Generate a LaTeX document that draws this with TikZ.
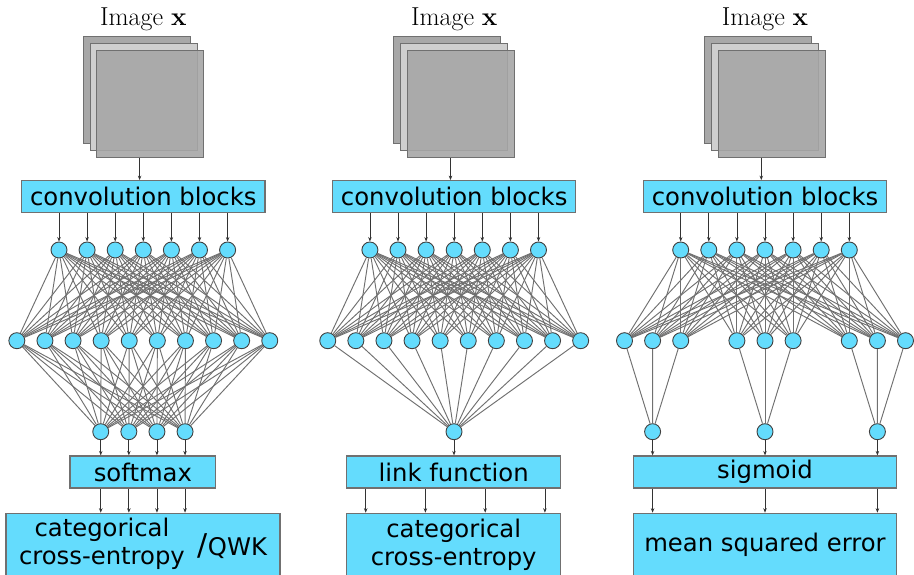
\documentclass[tikz,border=0pt]{standalone}
\usepackage{fontspec}
\setsansfont{DejaVu Sans}
\usetikzlibrary{arrows.meta,positioning}

\definecolor{unitblue}{RGB}{100,220,253}
\definecolor{wiregray}{RGB}{112,112,112}
\definecolor{framegray}{RGB}{112,112,112}

\tikzset{
  unit/.style={circle, draw=black!75, fill=unitblue, line width=0.9pt,
    minimum size=16pt, inner sep=0pt},
  blockbox/.style={draw=framegray, fill=unitblue, line width=1.2pt, inner sep=0pt,
    font=\sffamily\fontsize{24.3}{28}\selectfont},
  sheet/.style={draw=framegray, line width=1pt, minimum size=107pt, inner sep=0pt},
  wire/.style={wiregray, line width=0.95pt},
  feed/.style={black!80, line width=0.8pt, -{Stealth[length=4.5pt,width=3.5pt]}}
}

\begin{document}
\begin{tikzpicture}[x=1pt, y=-1pt]
        \useasboundingbox (0,0) rectangle (914,575);
        % Input image and convolution blocks, one column per model
        \foreach \c/\p in {143.3/a,454.2/b,765/c}{
          \node[anchor=base, font=\fontsize{26}{30}\selectfont, inner sep=0pt] (\p-label) at (\c,26) {Image \textbf{x}};
          \node[sheet, fill=black!34] (\p-back) at ({\c-6.8},90.5) {};
          \node[sheet, fill=black!19] (\p-mid) at ({\c+0.2},97.5) {};
          \node[sheet, fill=black!35, fill opacity=0.9] (\p-front) at ({\c+6.65},104.25) {};
          \node[blockbox, minimum width=243.3pt, minimum height=32pt] (\p-conv) at (\c,196.7) {convolution blocks};
          \coordinate (\p-src) at ({\c-3.7},157.8);
          \draw[feed] (\p-src) -- (\p-src |- \p-conv.north);
          % First hidden layer
          \foreach \i in {1,...,7}{
            \node[unit] (\p-t\i) at ({\c+(\i-4)*28.1},250) {};
            \draw[feed] (\p-conv.south -| \p-t\i) -- (\p-t\i);
          }
        }

        % Second hidden layer
        \foreach \j in {1,...,10}{
          \node[unit] (a-m\j) at ({143.3+(\j-5.5)*28.1},340.7) {};
          \node[unit] (b-m\j) at ({454.2+(\j-5.5)*28.1},340.7) {};
        }
        \foreach \k [count=\j] in {0,1,2,4,5,6,8,9,10}
          \node[unit] (c-m\j) at ({765+(\k-5)*28.1},340.7) {};

        % Dense connections
        \foreach \i in {1,...,7}{
          \foreach \j in {1,...,10}{
            \draw[wire] (a-t\i) -- (a-m\j);
            \draw[wire] (b-t\i) -- (b-m\j);
          }
          \foreach \j in {1,...,9}
            \draw[wire] (c-t\i) -- (c-m\j);
        }

        % Softmax head
        \node[blockbox, minimum width=145.7pt, minimum height=32pt] (a-soft) at (142.9,472) {softmax};
        \node[blockbox, minimum width=274pt, minimum height=62.4pt] (a-loss) at (143,544.5)
          {\begin{tabular}{@{}c@{}}categorical\\cross-entropy\end{tabular}\hspace{13pt}\raisebox{-4.6pt}{{\fontsize{30}{30}\selectfont/}QWK}};
        \foreach \i in {1,...,4}{
          \node[unit] (a-o\i) at ({142.9+(\i-2.5)*28.1},431.7) {};
          \foreach \j in {1,...,10}
            \draw[wire] (a-m\j) -- (a-o\i);
          \draw[feed] (a-o\i) -- (a-o\i |- a-soft.north);
          \draw[feed] (a-o\i |- a-soft.south) -- (a-o\i |- a-loss.north);
        }

        % Link function head
        \node[unit] (b-o) at (454,431.7) {};
        \foreach \j in {1,...,10}
          \draw[wire] (b-m\j) -- (b-o);
        \node[blockbox, minimum width=214pt, minimum height=32pt] (b-link) at (453.7,472) {link function};
        \node[blockbox, minimum width=214pt, minimum height=62.4pt, align=center] (b-loss) at (453.7,544.5) {categorical\\cross-entropy};
        \draw[feed] (b-o) -- (b-o |- b-link.north);
        \foreach \d in {-88,-28.3,31.5,91.2}
          \draw[feed] ([xshift=\d pt]b-link.south) -- ([xshift=\d pt]b-loss.north);

        % Sigmoid head
        \node[blockbox, minimum width=263.4pt, minimum height=32pt] (c-sig) at (765,472) {sigmoid};
        \node[blockbox, minimum width=263.4pt, minimum height=62.4pt] (c-loss) at (765,544.5) {mean squared error};
        \foreach \i/\first/\last in {1/1/3,2/4/6,3/7/9}{
          \node[unit] (c-o\i) at ({765+(\i-2)*112.4},431.7) {};
          \foreach \j in {\first,...,\last}
            \draw[wire] (c-m\j) -- (c-o\i);
          \draw[feed] (c-o\i) -- (c-o\i |- c-sig.north);
          \draw[feed] (c-o\i |- c-sig.south) -- (c-o\i |- c-loss.north);
        }
    \end{tikzpicture}
\end{document}
